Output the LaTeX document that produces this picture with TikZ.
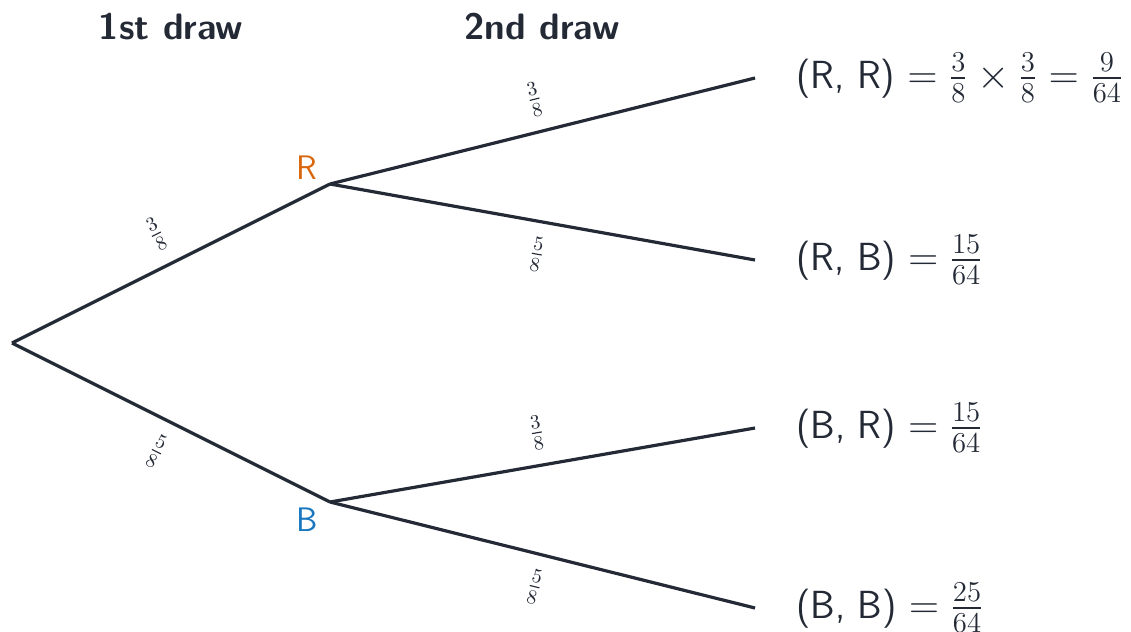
\documentclass[tikz,border=0pt]{standalone}
\usepackage{amsmath}
\usepackage{xcolor}
\definecolor{inkline}{HTML}{232A36}
\definecolor{redball}{HTML}{D9660B}
\definecolor{blueball}{HTML}{1877BE}

\begin{document}
\begin{tikzpicture}[x=0.5pt, y=-0.5pt, line width=1.6pt,
    font=\sffamily\fontsize{17}{20}\selectfont, text=inkline,
    branch/.style={draw=inkline},
    prob/.style={midway, sloped, font=\fontsize{14.5}{16}\selectfont, inner sep=2pt},
    outcome/.style={anchor=west, inner sep=0pt, xshift=20pt, font=\sffamily\fontsize{19.6}{22}\selectfont},
    heading/.style={font=\sffamily\bfseries\fontsize{18.4}{21}\selectfont}]
    \useasboundingbox (0,0) rectangle (1131,632);

    % 标题
    \node[heading] (head1) at (171,27) {1st draw};
    \node[heading] (head2) at (542,27) {2nd draw};

    % 分支点
    \coordinate (root) at (12,343);
    \coordinate (nR) at (330,184);
    \coordinate (nB) at (330,502);
    \coordinate (lRR) at (755,78);
    \coordinate (lRB) at (755,260);
    \coordinate (lBR) at (755,428);
    \coordinate (lBB) at (755,608);

    \node[text=redball] (labR) at (307,168) {R};
    \node[text=blueball] (labB) at (307,520) {B};

    % 第一次
    \draw[branch] (root) -- (nR) node[prob, above=5pt] (p1) {$\frac{3}{8}$};
    \draw[branch] (root) -- (nB) node[prob, below=5pt] (p2) {$\frac{5}{8}$};

    % 第二次
    \draw[branch] (nR) -- (lRR) node[prob, above=5pt] (p3) {$\frac{3}{8}$};
    \draw[branch] (nR) -- (lRB) node[prob, below=5pt] (p4) {$\frac{5}{8}$};
    \draw[branch] (nB) -- (lBR) node[prob, above=5pt] (p5) {$\frac{3}{8}$};
    \draw[branch] (nB) -- (lBB) node[prob, below=5pt] (p6) {$\frac{5}{8}$};

    % 结果
    \node[outcome] (oRR) at (lRR) {(R, R) $= \frac{3}{8}\times\frac{3}{8} = \frac{9}{64}$};
    \node[outcome] (oRB) at (lRB) {(R, B) $= \frac{15}{64}$};
    \node[outcome] (oBR) at (lBR) {(B, R) $= \frac{15}{64}$};
    \node[outcome] (oBB) at (lBB) {(B, B) $= \frac{25}{64}$};
\end{tikzpicture}
\end{document}
